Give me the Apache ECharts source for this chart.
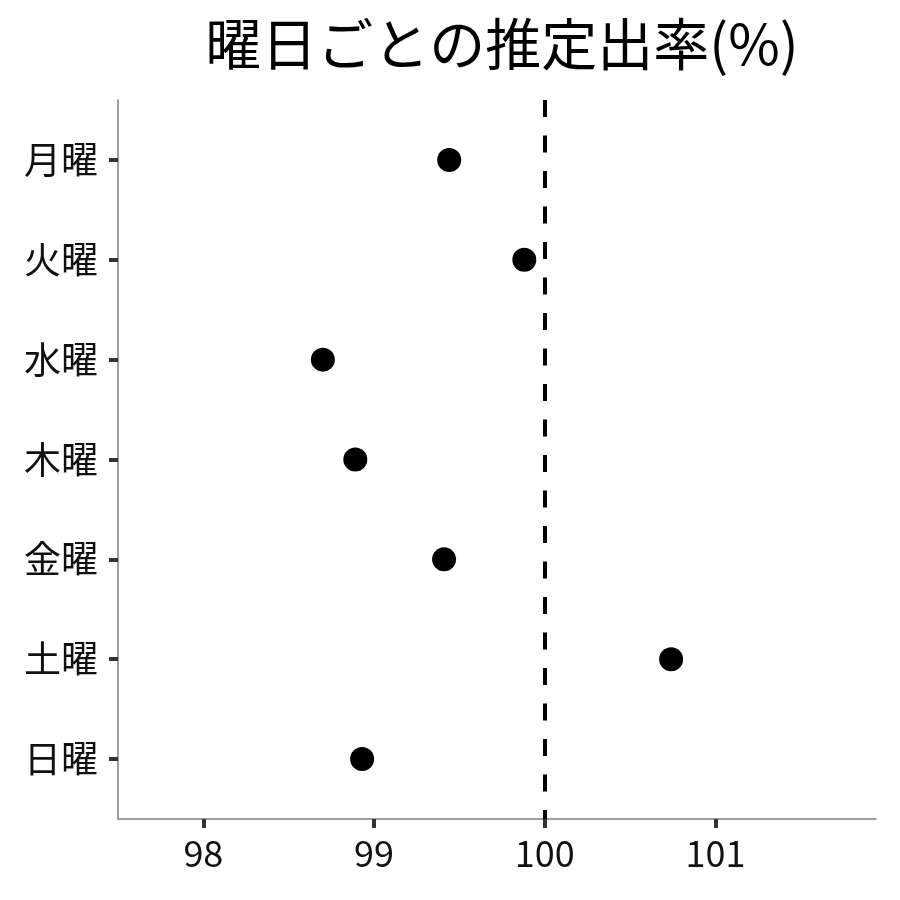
<!DOCTYPE html>
<html><head><meta charset="utf-8">
<script src="https://cdn.jsdelivr.net/npm/echarts@6/dist/echarts.min.js"></script>
<style>html,body{margin:0;padding:0;background:#fff}#c{width:900px;height:900px}</style>
</head><body><div id="c"></div>
<script>
const categories = ['月曜','火曜','水曜','木曜','金曜','土曜','日曜'];
const values = [99.44, 99.88, 98.70, 98.89, 99.41, 100.74, 98.93];
const xTicks = [98, 99, 100, 101];
const refLine = 100;
const titleText = '曜日ごとの推定出率(%)';

const font = '"Noto Sans CJK JP", "Noto Sans", sans-serif';
const yIdx = categories.map((_, i) => i + 1);
const chart = echarts.init(document.getElementById('c'));
chart.setOption({
  animation: false,
  backgroundColor: '#fff',
  title: {
    text: titleText, left: 497, top: 11, textAlign: 'center',
    textStyle: { fontFamily: font, fontSize: 56, fontWeight: 'normal', color: '#000' }
  },
  grid: { left: 118, right: 24, top: 100, bottom: 81 },
  xAxis: {
    type: 'value', min: 97.5, max: 101.94,
    axisLine: { show: true, lineStyle: { color: '#7f7f7f', width: 1.5 } },
    axisTick: { show: true, length: 9, lineStyle: { color: '#333', width: 4 }, customValues: xTicks },
    axisLabel: { customValues: xTicks, fontFamily: font, fontSize: 36, color: '#111', margin: 16 },
    splitLine: { show: false }
  },
  yAxis: {
    type: 'value', inverse: true, min: 0.4, max: 7.6,
    axisLine: { show: true, lineStyle: { color: '#7f7f7f', width: 1.5 } },
    axisTick: { show: true, length: 9, lineStyle: { color: '#333', width: 4 }, customValues: yIdx },
    axisLabel: { customValues: yIdx, fontFamily: font, fontSize: 37, color: '#111', margin: 20,
      formatter: v => categories[Math.round(v) - 1] || '' },
    splitLine: { show: false }
  },
  series: [{
    type: 'scatter', symbol: 'circle', symbolSize: 24,
    itemStyle: { color: '#000', opacity: 1 },
    data: values.map((v, i) => [v, yIdx[i]]),
    markLine: {
      silent: true, symbol: 'none', label: { show: false },
      lineStyle: { color: '#000', width: 4, type: [17, 18.5], opacity: 1 },
      data: [{ xAxis: refLine }]
    }
  }]
});
</script></body></html>
